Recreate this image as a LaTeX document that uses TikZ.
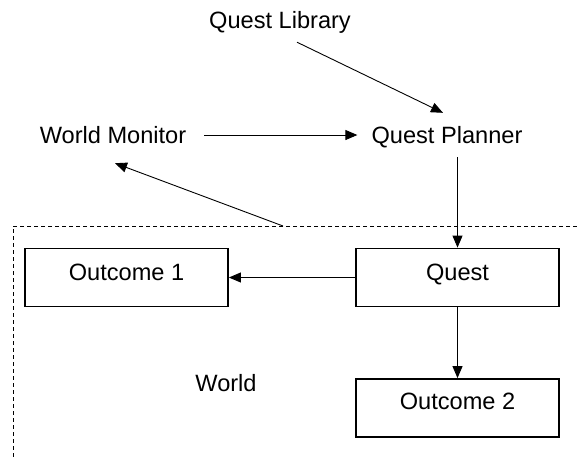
\documentclass[tikz,border=0pt]{standalone}
\usepackage{fontspec}
\setmainfont{Liberation Sans}
\usetikzlibrary{arrows.meta,calc}
\begin{document}
\begin{tikzpicture}[x=1pt,y=-1pt,
  every node/.style={font=\fontsize{23.6}{28}\selectfont, inner sep=0pt},
  label/.style={text height=17pt, text depth=0pt},
  box/.style={draw, line width=1.8pt, minimum width=203pt, minimum height=58pt, text height=17pt, text depth=0pt},
  arr/.style={line width=0.9pt, -{Triangle[length=12pt,width=10pt]}},
  border/.style={line width=0.8pt, dash pattern=on 4pt off 3pt}]
\useasboundingbox (0,0) rectangle (577,459);

% labels outside the world
\node[label] (lib) at (280,20) {Quest Library};
\node[label] (mon) at (113,135) {World Monitor};
\node[label] (plan) at (447,135) {Quest Planner};

% boxes inside the world
\node[box] (quest) at (457.5,277.5) {\raisebox{6pt}{Quest}};
\node[box] (out1) at (126.5,277.5) {\raisebox{6pt}{Outcome 1}};
\node[box] (out2) at (457.5,408) {\raisebox{7pt}{Outcome 2}};
\node[label] (world) at (226,383) {World};

% dashed boundary of the world
\coordinate (wtop) at (283,226);
\draw[border] (577,226) -- (13,226) -- (13,459);

% connectors
\draw[arr] ([xshift=17pt,yshift=-13.5pt]lib.south) -- ([xshift=-4pt,yshift=13.5pt]plan.north);
\draw[arr] ([xshift=18pt]mon.east) -- ([xshift=-14pt]plan.west);
\draw[arr] (wtop) -- ([xshift=2pt,yshift=-19.5pt]mon.south);
\draw[arr] ([yshift=-13.5pt]plan.south -| quest.north) -- (quest.north);
\draw[arr] (quest.west) -- (out1.east);
\draw[arr] (quest.south) -- (out2.north);
\end{tikzpicture}
\end{document}
